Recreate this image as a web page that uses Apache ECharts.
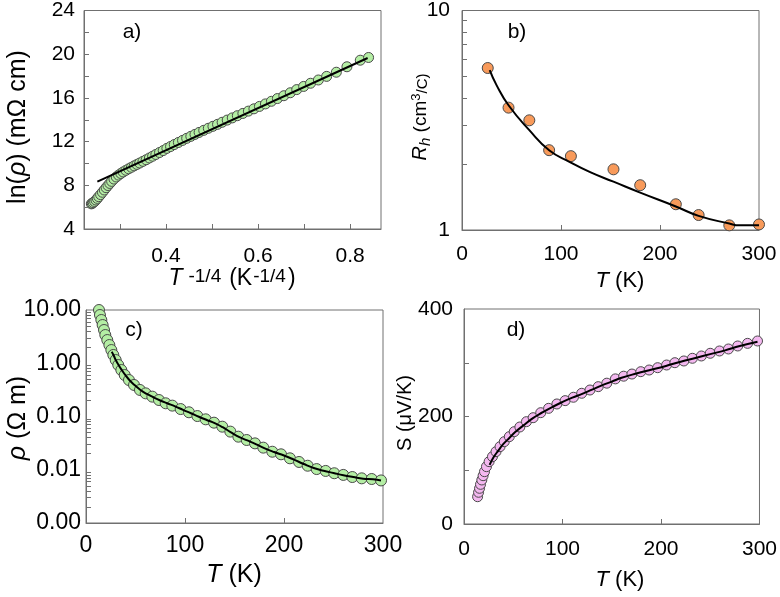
<!DOCTYPE html>
<html><head><meta charset="utf-8">
<script src="https://cdn.jsdelivr.net/npm/echarts@6/dist/echarts.min.js"></script>
<style>html,body{margin:0;padding:0;background:#fff}#c{width:780px;height:597px}</style>
</head><body><div id="c"></div>
<script>
// ---- Panel a: ln(rho) vs T^-1/4 ----
const aX = [0.238,0.240,0.242,0.245,0.248,0.251,0.254,0.258,0.262,0.266,0.270,0.274,0.278,0.282,0.287,0.292,0.297,0.302,0.307,0.313,0.319,0.325,0.331,0.337,0.343,0.350,0.357,0.364,0.371,0.378,0.386,0.394,0.402,0.410,0.418,0.427,0.436,0.445,0.454,0.463,0.472,0.482,0.492,0.502,0.512,0.522,0.533,0.544,0.555,0.567,0.579,0.591,0.603,0.616,0.629,0.642,0.656,0.670,0.684,0.699,0.714,0.731,0.749,0.770,0.793,0.822,0.840];
const aY = [6.30,6.35,6.42,6.52,6.65,6.80,6.96,7.15,7.36,7.57,7.78,7.98,8.17,8.36,8.57,8.76,8.93,9.08,9.22,9.37,9.51,9.65,9.78,9.91,10.04,10.19,10.34,10.50,10.66,10.82,11.00,11.18,11.38,11.55,11.73,11.92,12.11,12.30,12.48,12.66,12.84,13.03,13.22,13.40,13.58,13.77,13.97,14.17,14.37,14.58,14.79,15.00,15.22,15.45,15.69,15.94,16.20,16.47,16.76,17.05,17.34,17.64,17.97,18.35,18.85,19.45,19.70];
const aFitX = [0.251, 0.838];
const aFitY = [8.33, 19.65];
const aXTicks = [0.3,0.4,0.5,0.6,0.7,0.8];
const aXLabels = [0.4,0.6,0.8];
const aYTicks = [6,8,10,12,14,16,18,20,22];
const aYLabels = [4,8,12,16,20,24];

// ---- Panel b: Rh vs T ----
const bT  = [26,47,68,88,110,153,180,216,239,270,300];
const bRh = [5.47,3.61,3.16,2.31,2.17,1.89,1.60,1.31,1.17,1.05,1.06];
const bFitT  = [28,35,47,68,88,109,130,153,180,216,239,270,280,300];
const bFitRh = [5.35,4.56,3.70,2.85,2.31,2.04,1.83,1.66,1.48,1.28,1.16,1.07,1.05,1.05];
const bXTicks = [100,200];
const bXLabels = [0,100,200,300];
const bYTicks = [2,3,4,5,6,7,8,9];
const bYLabels = [1,10];

// ---- Panel c: rho vs T ----
const cT = [13.1,14.1,15.5,16.8,18.2,19.5,21.5,23.6,25.6,27.6,30.0,32.6,35.7,39.1,43.4,48.5,54.5,60.3,67.0,73.7,80.5,87.2,95.6,104.0,112.5,120.9,129.3,137.7,145.8,153.9,162.3,170.7,179.1,188.2,197.0,206.0,215.2,223.9,233.0,242.1,250.8,259.9,269.0,278.5,288.6,298.0];
const cRho = [10.0,8.05,6.49,5.22,4.21,3.39,2.73,2.20,1.77,1.43,1.15,0.927,0.746,0.601,0.484,0.391,0.315,0.272,0.236,0.204,0.177,0.160,0.138,0.120,0.102,0.0885,0.0766,0.0644,0.052,0.0418,0.0362,0.0313,0.0260,0.0218,0.0195,0.0164,0.0140,0.0119,0.0103,0.0095,0.0086,0.0080,0.0073,0.0069,0.0067,0.0063];
const cFitT = [26,28,30,33,36,40,44,49,55,61,68,75,82,90,98,106,114,122,130,138,146,155,163,172,180,190,200,210,220,230,240,250,260,270,280,290,298];
const cFitRho = [1.65,1.40,1.15,0.92,0.75,0.59,0.48,0.39,0.315,0.268,0.230,0.200,0.177,0.155,0.133,0.115,0.099,0.086,0.075,0.063,0.051,0.041,0.0355,0.030,0.0255,0.0215,0.0185,0.0155,0.0128,0.0108,0.0096,0.0087,0.0079,0.0073,0.0068,0.0066,0.0063];
const cXTicks = [100,200];
const cXLabels = [0,100,200,300];
const cYTicks = [0.002,0.003,0.004,0.005,0.006,0.007,0.008,0.009,0.02,0.03,0.04,0.05,0.06,0.07,0.08,0.09,0.2,0.3,0.4,0.5,0.6,0.7,0.8,0.9,2,3,4,5,6,7,8,9];
const cYLabels = [0.001,0.01,0.1,1,10];

// ---- Panel d: S vs T ----
const dT = [13.8,14.8,15.8,16.8,18.1,19.4,20.8,22.8,25.5,28.9,32.5,36.6,40.9,46.0,51.0,56.7,63.4,70.2,77.9,85.9,94.3,102.7,111.1,119.5,127.9,136.3,145.0,153.7,162.1,170.5,179.5,188.0,196.6,205.7,214.1,223.2,231.9,241.0,250.0,259.4,268.5,277.9,287.9,298.0];
const dS = [50.8,59,66.4,73.8,81.9,89.9,97.4,106.7,116,125.3,134.6,143.9,153.2,162.5,171.8,180.5,190.4,197.8,207.1,215.2,223.3,229.5,235.8,243.2,249.3,255.5,262,270,275,279,283.4,286.5,290.8,295.8,300.1,303.3,308.3,312.6,317.6,321.9,325.6,331.2,336.1,340.5];
const dFitT = [26,30,35,40,46,52,60,70,80,90,100,110,120,130,140,150,160,175,190,205,220,235,250,265,280,298];
const dFitS = [110,124,137,149,160,171,183,197,208,218,227,235,242,250,258,265,272,280,287,294,302,309,316,323,331,339];
const dXTicks = [100,200];
const dXLabels = [0,100,200,300];
const dYTicks = [100,200,300];
const dYLabels = [0,200,400];

const zip = (x, y) => x.map((v, i) => [v, y[i]]);
const FONT = 'Liberation Sans, Arial, sans-serif';
const AX = '#707070';

function xAxis(gi, min, max, ticks, labels, margin, fs, fmt) {
  return {
    type: 'value', gridIndex: gi, min: min, max: max,
    splitLine: {show: false},
    axisLine: {show: true, onZero: false, lineStyle: {color: AX, width: 1}},
    axisTick: {show: true, inside: true, length: 5, lineStyle: {color: AX}, customValues: ticks},
    axisLabel: {show: true, customValues: labels, margin: margin, color: '#000', fontSize: fs, fontFamily: FONT,
      showMinLabel: true, showMaxLabel: true, formatter: fmt || (v => String(v))}
  };
}
function yAxis(gi, type, min, max, ticks, labels, margin, fs, fmt) {
  const o = {
    type: type, gridIndex: gi, min: min, max: max,
    splitLine: {show: false},
    axisLine: {show: true, onZero: false, lineStyle: {color: AX, width: 1}},
    axisTick: {show: true, inside: true, length: 5, lineStyle: {color: AX}, customValues: ticks},
    axisLabel: {show: true, customValues: labels, margin: margin, color: '#000', fontSize: fs, fontFamily: FONT,
      showMinLabel: true, showMaxLabel: true, formatter: fmt || (v => String(v))}
  };
  if (type === 'log') o.logBase = 10;
  return o;
}
function scatter(xi, data, color, size) {
  return {type: 'scatter', xAxisIndex: xi, yAxisIndex: xi, data: data, symbol: 'circle', symbolSize: size,
    itemStyle: {color: color, borderColor: '#4a4a4a', borderWidth: 1, opacity: 1}, clip: false, silent: true};
}
function fit(xi, data, smooth) {
  return {type: 'line', xAxisIndex: xi, yAxisIndex: xi, data: data, showSymbol: false, smooth: smooth,
    lineStyle: {color: '#000', width: 2}, clip: false, silent: true, z: 3};
}

function R(fs, italic, va, pad) {
  const o = {fontSize: fs, fontFamily: FONT, color: '#000', verticalAlign: va || 'bottom'};
  if (italic) o.fontStyle = 'italic';
  if (pad) o.padding = pad;
  return o;
}
const rich = {
  an: R(23), ai: R(23, true),
  asup1: R(19, false, 'top', [0, 8, 0, 6]), asup2: R(19, false, 'top', [0, 2, 0, 1]),
  yn: R(25), yi: R(25, true),
  bn: R(19), bi: R(20, true), bsub: R(15, true, 'bottom', [0, 0, -3, 0]), bsup: R(13, false, 'top'), bs: R(15),
  tn: R(22), ti: R(22, true),
  cn: R(25), ci: R(25, true),
  dn: R(20)
};
function txt(x, y, text, rot) {
  return {type: 'text', x: x, y: y, rotation: rot || 0, silent: true,
    style: {text: text, rich: rich, align: 'center', verticalAlign: 'middle', fill: '#000'}};
}
function plain(x, y, text) {
  return {type: 'text', x: x, y: y, silent: true,
    style: {text: text, fontSize: 21, fontFamily: FONT, fill: '#000', align: 'center', verticalAlign: 'middle'}};
}

const option = {
  animation: false,
  backgroundColor: '#fff',
  grid: [
    {left: 84, top: 10, width: 297, height: 219, show: true, borderColor: AX, borderWidth: 1, backgroundColor: 'transparent'},
    {left: 462, top: 10, width: 297, height: 220, show: true, borderColor: AX, borderWidth: 1, backgroundColor: 'transparent'},
    {left: 86, top: 310, width: 297, height: 213, show: true, borderColor: AX, borderWidth: 1, backgroundColor: 'transparent'},
    {left: 464, top: 309, width: 298, height: 215, show: true, borderColor: AX, borderWidth: 1, backgroundColor: 'transparent'}
  ],
  xAxis: [
    xAxis(0, 0.222, 0.867, aXTicks, aXLabels, 17, 21, v => v.toFixed(1)),
    xAxis(1, 0, 300, bXTicks, bXLabels, 14, 21),
    xAxis(2, 0, 300, cXTicks, cXLabels, 11, 23),
    xAxis(3, 0, 300, dXTicks, dXLabels, 15, 21)
  ],
  yAxis: [
    yAxis(0, 'value', 4, 24, aYTicks, aYLabels, 9, 21),
    yAxis(1, 'log', 1, 10, bYTicks, bYLabels, 12, 21),
    yAxis(2, 'log', 0.001, 10, cYTicks, cYLabels, 5, 23, v => Number(v).toFixed(2)),
    yAxis(3, 'value', 0, 400, dYTicks, dYLabels, 11, 21)
  ],
  series: [
    scatter(0, zip(aX, aY), '#b4eea4', 10),
    fit(0, zip(aFitX, aFitY), false),
    scatter(1, zip(bT, bRh), '#f89a5a', 11),
    fit(1, zip(bFitT, bFitRh), true),
    scatter(2, zip(cT, cRho), '#b4eea4', 11),
    fit(2, zip(cFitT, cFitRho), true),
    scatter(3, zip(dT, dS), '#f4b8f0', 10),
    fit(3, zip(dFitT, dFitS), true)
  ],
  graphic: [
    txt(18, 127, '{yn|ln(}{yi|ρ}{yn|) (mΩ cm)}', Math.PI / 2),
    txt(232, 279, '{ai|T}{asup1|-1/4}{an|(K}{asup2|-1/4}{an|)}'),
    txt(420, 117, '{bi|R}{bsub|h}{bn| (cm}{bsup|3}{bs|/C)}', Math.PI / 2),
    txt(620, 281, '{ti|T}{tn| (K)}'),
    txt(18, 418, '{ci|ρ}{cn| (Ω m)}', Math.PI / 2),
    txt(234, 575, '{ci|T}{cn| (K)}'),
    txt(405, 413, '{dn|S (μV/K)}', Math.PI / 2),
    txt(620, 580, '{ti|T}{tn| (K)}'),
    plain(132, 32, 'a)'),
    plain(517, 32, 'b)'),
    plain(134, 330, 'c)'),
    plain(516, 330, 'd)')
  ]
};
echarts.init(document.getElementById('c'), null, {renderer: 'canvas'}).setOption(option);
</script>
</body></html>
